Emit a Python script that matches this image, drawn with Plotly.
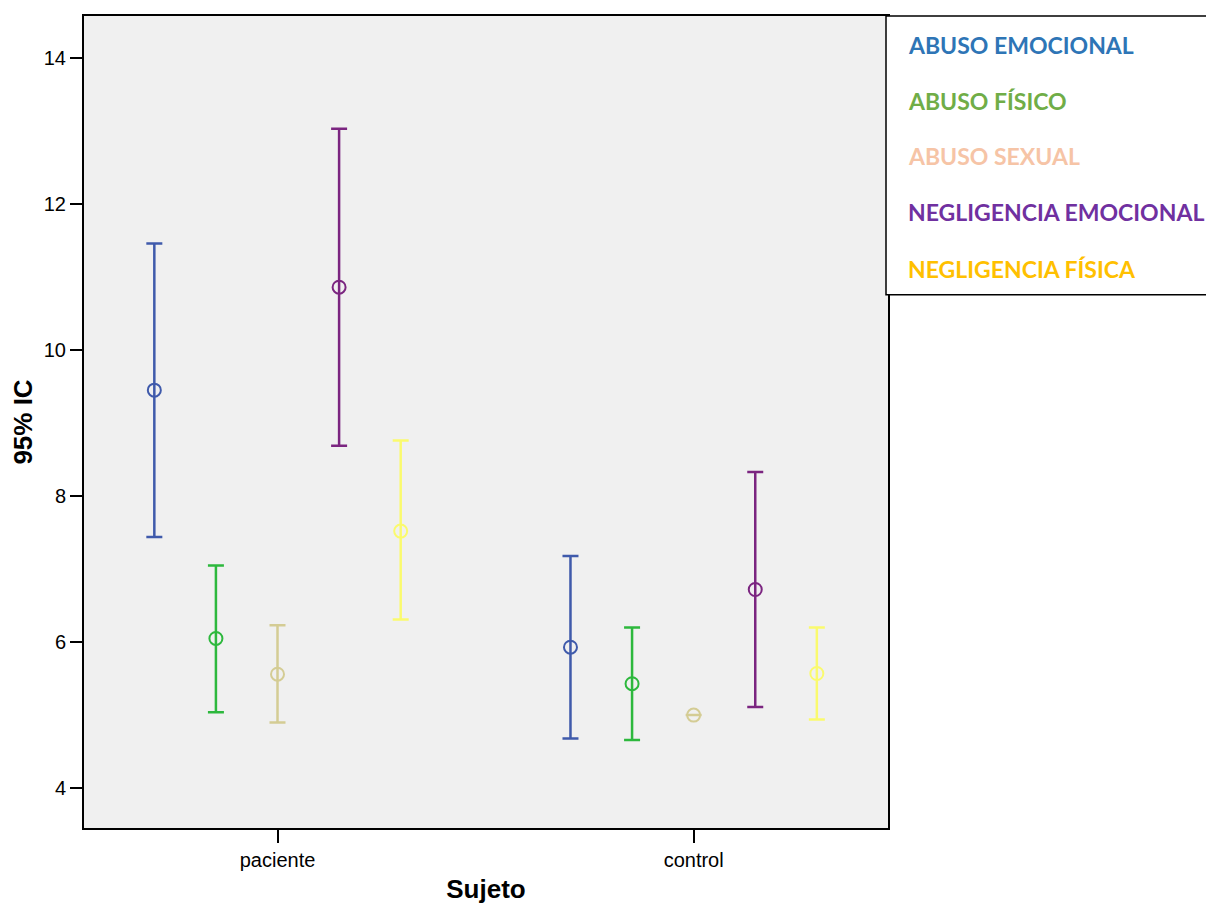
import plotly.graph_objects as go

groups = ["paciente", "control"]
series = ["ABUSO EMOCIONAL", "ABUSO FÍSICO", "ABUSO SEXUAL",
          "NEGLIGENCIA EMOCIONAL", "NEGLIGENCIA FÍSICA"]

# means, upper and lower 95% CI per series [paciente, control]
mean_ae = [9.45, 5.93]
upper_ae = [11.46, 7.18]
lower_ae = [7.44, 4.68]

mean_af = [6.05, 5.43]
upper_af = [7.05, 6.20]
lower_af = [5.04, 4.66]

mean_as = [5.56, 5.00]
upper_as = [6.23, 5.00]
lower_as = [4.90, 5.00]

mean_ne = [10.86, 6.72]
upper_ne = [13.03, 8.33]
lower_ne = [8.69, 5.11]

mean_nf = [7.52, 5.57]
upper_nf = [8.76, 6.20]
lower_nf = [6.31, 4.94]

means = [mean_ae, mean_af, mean_as, mean_ne, mean_nf]
uppers = [upper_ae, upper_af, upper_as, upper_ne, upper_nf]
lowers = [lower_ae, lower_af, lower_as, lower_ne, lower_nf]

bar_colors = ["#3f5aab", "#2db83d", "#d4cc94", "#7b2580", "#fafa6e"]
legend_colors = ["#2e75b6", "#70ad47", "#f6c4a6", "#7030a0", "#ffc000"]

offset_step = 0.148

fig = go.Figure()
for i, name in enumerate(series):
    off = (i - 2) * offset_step
    xs = [g + off for g in range(len(groups))]
    m = means[i]
    up = [u - v for u, v in zip(uppers[i], m)]
    dn = [v - l for v, l in zip(m, lowers[i])]
    fig.add_trace(go.Scatter(
        x=xs, y=m, mode="markers", name=name, showlegend=False,
        marker=dict(symbol="circle-open", size=13, color=bar_colors[i],
                    line=dict(width=2, color=bar_colors[i])),
        error_y=dict(type="data", symmetric=False, array=up, arrayminus=dn,
                     color=bar_colors[i], thickness=2.5, width=8),
    ))

# figure is offset by the 8px page margin: plot area in figure coords
PL, PT, PR, PB = 76, 6, 880, 822
W, H = 1206, 897
pw, ph = PR - PL, PB - PT

def px(x):
    return (x - 8 - PL) / pw

def py(y):
    return (PB - (y - 8)) / ph

# legend box (separate panel)
fig.add_shape(type="rect", xref="paper", yref="paper",
              x0=px(886), x1=px(1240), y0=py(294), y1=py(14),
              line=dict(color="black", width=1.5), fillcolor="white", layer="above")
legend_y = [43, 99, 155, 211, 268]
for i, name in enumerate(series):
    fig.add_annotation(xref="paper", yref="paper",
                       x=px(906), y=py(legend_y[i]),
                       xanchor="left", yanchor="middle", showarrow=False,
                       text=f"<b>{name}</b>",
                       font=dict(family="Lato", size=23, color=legend_colors[i]))

fig.update_layout(
    width=W, height=H,
    margin=dict(l=PL, r=W - PR, t=PT, b=H - PB),
    paper_bgcolor="white", plot_bgcolor="#f0f0f0",
    font=dict(family="Liberation Sans, Arial", size=20, color="black"),
    xaxis=dict(range=[-0.465, 1.467], tickmode="array", tickvals=[0, 1],
               ticktext=groups, showgrid=False, zeroline=False,
               ticks="outside", ticklen=13, tickwidth=2, tickcolor="black",
               showline=True, linecolor="black", linewidth=2, mirror=True,
               title=dict(text="<b>Sujeto</b>", font=dict(size=26), standoff=10)),
    yaxis=dict(range=[3.454, 14.574], tickvals=[4, 6, 8, 10, 12, 14],
               showgrid=False, zeroline=False,
               ticks="outside", ticklen=12, tickwidth=2, tickcolor="black",
               showline=True, linecolor="black", linewidth=2, mirror=True,
               title=dict(text="<b>95% IC</b>", font=dict(size=26), standoff=10)),
)

fig.write_html("out.html")
